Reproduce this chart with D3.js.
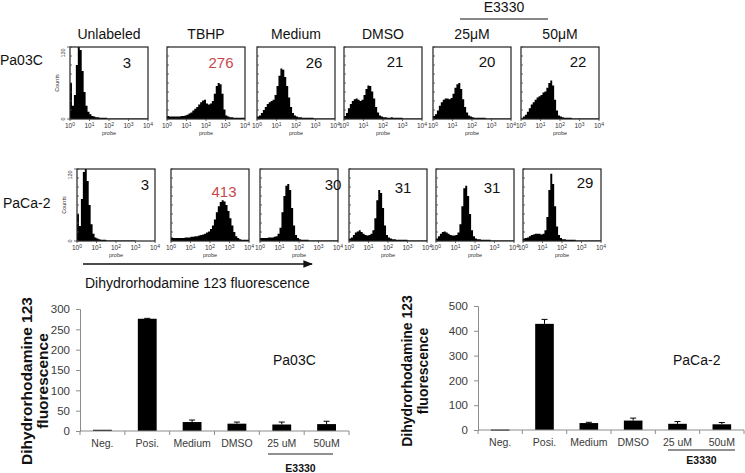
<!DOCTYPE html>
<html><head><meta charset="utf-8">
<script src="https://cdn.jsdelivr.net/npm/d3@7"></script>
<style>body{margin:0;background:#fff}svg{display:block}text{font-family:"Liberation Sans",Arial,sans-serif}</style>
</head><body><svg id="c" width="745" height="473"></svg>
<script>
// ---------- DATA ----------
const histConditions = ["Unlabeled","TBHP","Medium","DMSO","25μM","50μM"];
const histCellLines = ["Pa03C","PaCa-2"];
const histMeanPa03C = ["3","276","26","21","20","22"];
const histMeanPaCa2 = ["3","413","30","31","31","29"];
const histHighlight = [false,true,false,false,false,false];
const histDecadeTicks = [0,1,2,3,4];
const histCountTicks = [0,120];
// counts per 0.1-decade bin, 10^0 .. 10^4 (40 bins)
const histCountsPa03C = [
 [60,22,40,90,125,115,80,45,22,12, 8,5,4,3,3,2,2,2,2,1, 1,1,1,1,1,1,1,1,1,1, 1,1,1,1,1,1,1,1,1,1],
 [5,4,4,4,4,4,4,5,5,6, 7,9,11,14,17,20,24,28,31,32, 26,24,26,30,42,55,60,58,42,16, 6,4,3,3,2,2,2,2,2,2],
 [4,6,10,15,20,25,28,30,32,40, 55,72,84,82,70,55,36,20,10,6, 4,3,3,2,2,2,2,2,2,1, 1,1,1,1,1,1,1,1,1,1],
 [5,10,18,25,30,33,34,32,30,32, 40,50,56,55,46,34,20,11,6,4, 3,3,2,2,3,2,2,2,2,2, 1,1,1,1,1,1,1,1,1,1],
 [5,8,14,22,28,32,34,34,33,35, 42,52,58,60,50,33,20,11,6,4, 3,2,2,2,2,2,2,1,1,1, 1,1,1,1,1,1,1,1,1,1],
 [2,4,7,12,18,24,28,32,36,38, 40,44,46,52,60,64,56,32,14,6, 4,3,2,2,2,2,1,1,1,1, 1,1,1,1,1,1,1,1,1,1]
];
const histCountsPaCa2 = [
 [45,25,70,115,125,100,60,28,12,6, 4,3,2,2,2,1,1,1,1,1, 1,1,1,1,1,1,1,1,1,1, 0,0,0,0,0,0,0,0,0,0],
 [6,5,5,5,5,5,5,6,6,6, 7,7,8,8,9,10,11,12,14,16, 20,26,36,48,58,65,68,66,60,50, 38,26,15,8,5,3,2,2,2,2],
 [5,5,5,5,6,6,6,7,8,12, 22,48,75,92,95,85,55,26,10,5, 3,2,2,2,2,1,1,1,1,1, 1,1,1,1,1,1,1,1,1,1],
 [4,6,10,14,16,18,15,12,10,9, 10,12,18,38,68,85,80,55,26,10, 6,4,3,3,2,2,2,2,2,2, 1,1,1,1,1,1,1,1,1,1],
 [4,8,12,15,16,14,12,10,9,9, 10,14,28,58,88,92,75,45,18,8, 4,3,3,2,2,2,2,2,1,1, 1,1,1,1,1,1,1,1,1,1],
 [4,5,6,8,10,11,12,12,12,11, 12,18,40,85,112,95,58,24,10,5, 3,3,2,2,2,2,2,1,1,1, 1,1,1,1,1,1,1,1,1,1]
];
const barCategories = ["Neg.","Posi.","Medium","DMSO","25 uM","50uM"];
const barPa03C = [3,276,22,18,16,17];
const errPa03C = [0,1,5,4,6,7];
const barPaCa2 = [2,428,28,38,25,23];
const errPaCa2 = [0,18,3,10,9,7];
const yTicksPa03C = [0,50,100,150,200,250,300];
const yTicksPaCa2 = [0,100,200,300,400,500];

// ---------- DRAW ----------
const svg = d3.select("#c");
const FONT = '"Liberation Sans",Arial,sans-serif';
const RED = "#c9474c";

const rowLayouts = [
 {top:47, h:72, lefts:[70,167,257,344,433,521], labelY:65, numX:[127,221,314,395,487,578], numY:[68,68,68,67,67,67]},
 {top:169, h:72, lefts:[77,171,260,349,436,523], labelY:208, numX:[145,224,333,403,492,585], numY:[190,197,190,193,193,188]}
];
const boxW = 78;
const rowCounts = [histCountsPa03C, histCountsPaCa2];
const rowMeans = [histMeanPa03C, histMeanPaCa2];

// header labels
histConditions.forEach((c,i)=>{
  svg.append("text").attr("x", rowLayouts[0].lefts[i]+boxW/2).attr("y",39)
    .attr("text-anchor","middle").attr("font-size",14).attr("fill","#111").text(c);
});
svg.append("text").attr("x",504).attr("y",12).attr("text-anchor","middle")
  .attr("font-size",14).attr("fill","#111").text("E3330");
svg.append("line").attr("x1",460).attr("x2",548).attr("y1",19).attr("y2",19)
  .attr("stroke","#111").attr("stroke-width",1);

rowLayouts.forEach((L,r)=>{
  svg.append("text").attr("x",r===0?0:3).attr("y",L.labelY).attr("font-size",14)
    .attr("fill","#111").text(histCellLines[r]);
  rowCounts[r].forEach((counts,i)=>{
    const g = svg.append("g").attr("transform",`translate(${L.lefts[i]},${L.top})`);
    const x = d3.scaleLog().domain([1,1e4]).range([0,boxW]);
    const y = d3.scaleLinear().domain([0,120]).range([L.h,0]).clamp(true);
    const pts = counts.map((v,k)=>({e:Math.pow(10,k/10), v}));
    pts.push({e:1e4, v:counts[counts.length-1]});
    g.append("path").datum(pts)
      .attr("d", d3.area().x(d=>x(d.e)).y0(L.h).y1(d=>y(d.v)).curve(d3.curveStepAfter))
      .attr("fill","#000");
    g.append("rect").attr("x",0).attr("y",0).attr("width",boxW).attr("height",L.h)
      .attr("fill","none").attr("stroke","#222").attr("stroke-width",1.2);
    d3.range(0,121,15).forEach(t=>{
      g.append("line").attr("x1",0).attr("x2",2).attr("y1",y(t)).attr("y2",y(t))
        .attr("stroke","#444").attr("stroke-width",0.8);
    });
    histDecadeTicks.forEach(d=>{
      const xx = x(Math.pow(10,d));
      g.append("line").attr("x1",xx).attr("x2",xx).attr("y1",L.h).attr("y2",L.h+2)
        .attr("stroke","#444").attr("stroke-width",0.8);
      const t = g.append("text").attr("x",xx).attr("y",L.h+9).attr("text-anchor","middle")
        .attr("font-size",6.5).attr("fill","#333");
      t.append("tspan").text("10");
      t.append("tspan").attr("dy",-2.5).attr("font-size",5).text(d);
    });
    g.append("text").attr("x",boxW/2).attr("y",L.h+15.5).attr("text-anchor","middle")
      .attr("font-size",5.5).attr("fill","#333").text("probe");
    if(i===0){
      histCountTicks.forEach(t=>{
        g.append("line").attr("x1",-3).attr("x2",0).attr("y1",y(t)).attr("y2",y(t))
          .attr("stroke","#444").attr("stroke-width",0.8);
        g.append("text").attr("transform",`translate(-5,${t===0?y(t):y(t)+6}) rotate(-90)`)
          .attr("text-anchor","middle").attr("font-size",5.5).attr("fill","#333").text(t);
      });
      g.append("text").attr("transform",`translate(-11,${L.h/2}) rotate(-90)`)
        .attr("text-anchor","middle").attr("font-size",5.5).attr("fill","#333").text("Counts");
    }
    svg.append("text").attr("x",L.numX[i]).attr("y",L.numY[i]).attr("text-anchor","middle")
      .attr("font-size",15).attr("fill", histHighlight[i]?RED:"#111").text(rowMeans[r][i]);
  });
});

// arrow + axis label
svg.append("defs").append("marker").attr("id","ah").attr("viewBox","0 0 10 10")
  .attr("refX",9).attr("refY",5).attr("markerWidth",6).attr("markerHeight",6)
  .attr("orient","auto").append("path").attr("d","M0,1 L10,5 L0,9 Z").attr("fill","#111");
svg.append("line").attr("x1",83).attr("x2",312).attr("y1",264).attr("y2",264)
  .attr("stroke","#111").attr("stroke-width",1.6).attr("marker-end","url(#ah)");
svg.append("text").attr("x",85).attr("y",288).attr("font-size",14).attr("fill","#111")
  .text("Dihydrorhodamine 123 fluorescence");

// bar charts
function barChart(cfg){
  const x = d3.scaleBand().domain(barCategories).range([cfg.x0,cfg.x1]).padding(0);
  const y = d3.scaleLinear().domain([0,cfg.max]).range([cfg.y0,cfg.yTop]);
  const g = svg.append("g");
  const bw = x.step()*0.42;
  cfg.values.forEach((v,i)=>{
    const cx = x(barCategories[i]) + x.bandwidth()/2;
    g.append("rect").attr("x",cx-bw/2).attr("y",y(v)).attr("width",bw)
      .attr("height",Math.max(1.2,y(0)-y(v))).attr("fill","#000");
    const e = cfg.errs[i];
    if(e>0){
      g.append("line").attr("x1",cx).attr("x2",cx).attr("y1",y(v)).attr("y2",y(v+e))
        .attr("stroke","#000").attr("stroke-width",1);
      g.append("line").attr("x1",cx-3).attr("x2",cx+3).attr("y1",y(v+e)).attr("y2",y(v+e))
        .attr("stroke","#000").attr("stroke-width",1);
    }
  });
  const ya = g.append("g").attr("transform",`translate(${cfg.x0},0)`)
    .call(d3.axisLeft(y).tickValues(cfg.ticks).tickSize(4).tickPadding(6));
  ya.select(".domain").attr("stroke","#8c8c8c");
  ya.selectAll(".tick line").attr("stroke","#8c8c8c");
  ya.selectAll(".tick text").attr("font-size",11.5).attr("fill","#3a3a3a").attr("font-family",FONT);
  g.append("line").attr("x1",cfg.x0).attr("x2",cfg.x1).attr("y1",y(0)).attr("y2",y(0))
    .attr("stroke","#8c8c8c");
  d3.range(barCategories.length+1).forEach(k=>{
    const xx = cfg.x0 + k*x.step();
    g.append("line").attr("x1",xx).attr("x2",xx).attr("y1",y(0)).attr("y2",y(0)+4)
      .attr("stroke","#8c8c8c");
  });
  barCategories.forEach(c=>{
    g.append("text").attr("x",x(c)+x.bandwidth()/2).attr("y",y(0)+16).attr("text-anchor","middle")
      .attr("font-size",10.5).attr("fill","#3a3a3a").text(c);
  });
  g.append("line").attr("x1",cfg.bx0).attr("x2",cfg.bx1).attr("y1",cfg.by).attr("y2",cfg.by)
    .attr("stroke","#222").attr("stroke-width",1);
  g.append("text").attr("x",(cfg.bx0+cfg.bx1)/2).attr("y",cfg.ey).attr("text-anchor","middle")
    .attr("font-size",10.5).attr("font-weight","bold").attr("fill","#111").text("E3330");
  const t = g.append("text").attr("transform",`translate(${cfg.tx},${cfg.ty}) rotate(-90)`)
    .attr("text-anchor","middle").attr("font-size",cfg.tfs).attr("font-weight","bold").attr("fill","#111");
  t.append("tspan").attr("x",0).attr("dy",0).text("Dihydrorhodamine 123");
  t.append("tspan").attr("x",0).attr("dy",16).text("fluorescence");
  g.append("text").attr("x",cfg.lx).attr("y",365).attr("font-size",14).attr("fill","#111").text(cfg.label);
}
barChart({x0:80,x1:349,y0:431,yTop:309,max:300,values:barPa03C,errs:errPa03C,ticks:yTicksPa03C,
  bx0:268,bx1:333,by:454,ey:472,tx:32,ty:381,tfs:15.5,lx:273,label:"Pa03C"});
barChart({x0:478,x1:744,y0:430,yTop:306,max:500,values:barPaCa2,errs:errPaCa2,ticks:yTicksPaCa2,
  bx0:668,bx1:735,by:450,ey:464,tx:412,ty:371,tfs:14,lx:673,label:"PaCa-2"});
</script></body></html>
